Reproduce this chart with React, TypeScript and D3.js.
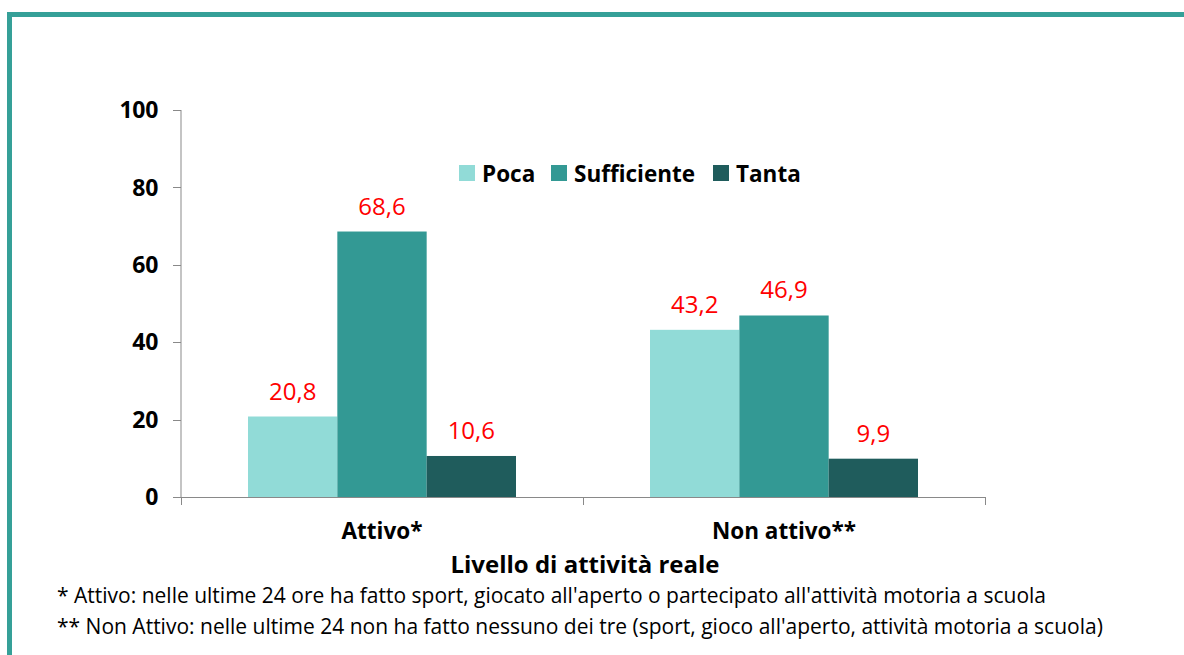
import React, { useEffect } from 'react';
import * as d3 from 'd3';

const categories = ['Attivo*', 'Non attivo**'];
const series = ['Poca', 'Sufficiente', 'Tanta'];
const poca = [20.8, 43.2];
const sufficiente = [68.6, 46.9];
const tanta = [10.6, 9.9];
const yTicks = [0, 20, 40, 60, 80, 100];
const colors = ['#91DBD7', '#339994', '#1F5C5C'];
const footnotes = [
  "* Attivo: nelle ultime 24 ore ha fatto sport, giocato all'aperto o partecipato all'attività motoria a scuola",
  "** Non Attivo: nelle ultime 24 non ha fatto nessuno dei tre (sport, gioco all'aperto, attività motoria a scuola)",
];

const W = 1184;
const H = 655;
const font = '"Open Sans", "Noto Sans", sans-serif';

const App = () => {
  useEffect(() => {
    document.body.style.margin = '0';
  }, []);

  const values = [poca, sufficiente, tanta];
  const x0 = d3.scaleBand().domain(categories).range([181, 985]).paddingInner(0).paddingOuter(0);
  const x1 = d3.scaleBand().domain(series).range([0, x0.bandwidth() * 2 / 3]);
  const y = d3.scaleLinear().domain([0, 100]).range([497, 110]);
  const gray = '#898989';

  return (
    <svg width={W} height={H} style={{ display: 'block', background: '#fff' }} fontFamily={font}>
      {/* frame */}
      <line x1={9.5} y1={12} x2={9.5} y2={H} stroke="#35A098" strokeWidth={5} />
      <line x1={7} y1={14.5} x2={W} y2={14.5} stroke="#35A098" strokeWidth={5} />

      {/* y axis */}
      <line x1={181} x2={181} y1={y(100)} y2={y(0)} stroke={gray} />
      {yTicks.map(t => (
        <g key={t}>
          <line x1={173} x2={181} y1={Math.round(y(t)) + 0.5} y2={Math.round(y(t)) + 0.5} stroke={gray} />
          <text x={158} y={y(t)} dy="0.36em" textAnchor="end" fontWeight="bold" fontSize={23} letterSpacing={-0.3} fill="#000">{t}</text>
        </g>
      ))}

      {/* x axis */}
      <line x1={181} x2={985} y1={497.5} y2={497.5} stroke={gray} />
      {[181, 583, 985].map((px, i) => (
        <line key={i} x1={px + 0.5} x2={px + 0.5} y1={497} y2={505} stroke={gray} />
      ))}

      {/* bars */}
      {categories.map((c, ci) => {
        const gx = (x0(c) as number) + x0.bandwidth() / 6;
        return (
          <g key={c} transform={`translate(${gx},0)`}>
            {series.map((s, si) => {
              const v = values[si][ci];
              const bx = x1(s) as number;
              return (
                <g key={s}>
                  <rect x={bx} y={y(v)} width={x1.bandwidth()} height={y(0) - y(v)} fill={colors[si]} />
                  <text x={bx + x1.bandwidth() / 2} y={y(v) - 17} textAnchor="middle" fontSize={24} fill="#FF0000">
                    {v.toFixed(1).replace('.', ',')}
                  </text>
                </g>
              );
            })}
          </g>
        );
      })}

      {/* category labels */}
      {categories.map(c => (
        <text key={c} x={(x0(c) as number) + x0.bandwidth() / 2} y={539} textAnchor="middle" fontWeight="bold" fontSize={22.5} fill="#000">{c}</text>
      ))}
      <text x={585} y={573} textAnchor="middle" fontWeight="bold" fontSize={24} fill="#000">Livello di attività reale</text>

      {/* legend */}
      {series.map((s, i) => {
        const lx = [459, 551, 713][i];
        return (
          <g key={s}>
            <rect x={lx} y={165} width={16} height={16} fill={colors[i]} />
            <text x={lx + 23} y={182} fontWeight="bold" fontSize={22.5} fill="#000">{s}</text>
          </g>
        );
      })}

      {/* footnotes */}
      {footnotes.map((f, i) => (
        <text key={i} x={57} y={603 + i * 31} fontSize={21} fill="#000">{f}</text>
      ))}
    </svg>
  );
};

export default App;
